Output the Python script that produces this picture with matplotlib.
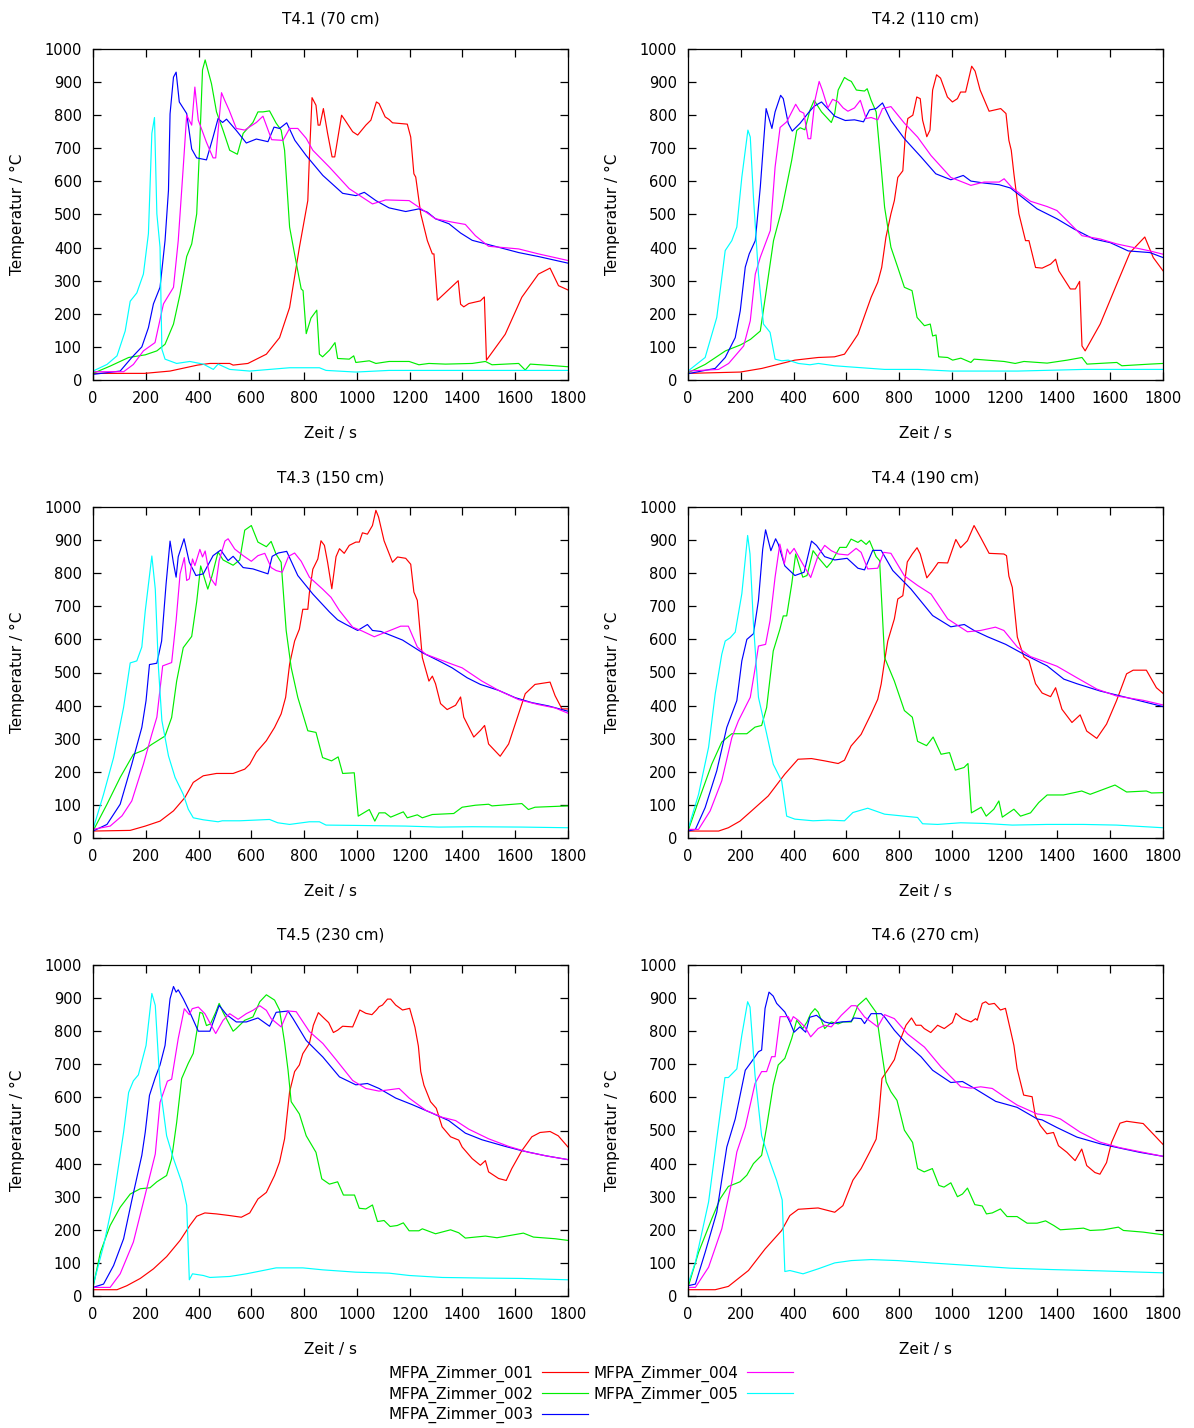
import matplotlib
matplotlib.use("Agg")
import matplotlib.pyplot as plt

titles = ["T4.1 (70 cm)", "T4.2 (110 cm)", "T4.3 (150 cm)",
          "T4.4 (190 cm)", "T4.5 (230 cm)", "T4.6 (270 cm)"]
series_names = ["MFPA_Zimmer_001", "MFPA_Zimmer_002", "MFPA_Zimmer_003",
                "MFPA_Zimmer_004", "MFPA_Zimmer_005"]
colors = ["#ff0000", "#00ee00", "#0000ff", "#ff00ff", "#00ffff"]

# ---- T4.1 (70 cm) ----
T41_001_t = [0, 195, 292, 396, 443, 518, 531, 587, 657, 707, 745, 782, 814, 820, 830, 845, 853, 860, 873, 889, 906, 916, 942, 955, 984, 1003, 1034, 1053, 1074, 1084, 1107, 1122, 1135, 1191, 1204, 1216, 1223, 1242, 1267, 1286, 1292, 1305, 1384, 1393, 1405, 1424, 1468, 1483, 1491, 1562, 1625, 1688, 1732, 1764, 1800]
T41_001_v = [20, 20, 27, 45, 50, 50, 45, 50, 78, 128, 219, 400, 542, 673, 853, 830, 770, 770, 820, 745, 674, 674, 800, 785, 750, 740, 770, 785, 840, 835, 795, 787, 777, 773, 734, 623, 613, 502, 421, 381, 381, 241, 300, 229, 221, 231, 239, 251, 60, 138, 250, 320, 338, 285, 272]
T41_002_t = [0, 65, 135, 198, 242, 273, 305, 330, 355, 374, 393, 405, 415, 425, 449, 468, 493, 518, 547, 569, 606, 625, 644, 669, 694, 713, 726, 745, 764, 789, 796, 808, 826, 848, 858, 870, 896, 917, 927, 971, 988, 996, 1047, 1072, 1122, 1198, 1235, 1273, 1336, 1437, 1487, 1512, 1613, 1638, 1657, 1751, 1800]
T41_002_v = [20, 42, 68, 76, 88, 108, 169, 260, 373, 411, 502, 724, 937, 967, 895, 810, 754, 694, 682, 745, 778, 810, 810, 813, 776, 755, 694, 462, 380, 275, 270, 140, 187, 211, 78, 70, 90, 113, 65, 63, 73, 53, 58, 50, 56, 56, 46, 50, 48, 50, 56, 46, 50, 30, 48, 43, 40]
T41_003_t = [0, 103, 147, 185, 210, 229, 254, 273, 286, 292, 305, 315, 327, 355, 374, 393, 430, 455, 474, 491, 506, 543, 581, 619, 663, 686, 707, 734, 765, 808, 871, 946, 996, 1028, 1072, 1122, 1185, 1235, 1267, 1298, 1349, 1393, 1437, 1499, 1613, 1688, 1800]
T41_003_v = [17, 27, 68, 100, 158, 230, 280, 421, 573, 804, 915, 930, 840, 805, 698, 671, 665, 734, 790, 778, 788, 754, 716, 728, 720, 764, 760, 777, 724, 678, 618, 564, 557, 567, 542, 520, 509, 517, 507, 487, 472, 444, 422, 409, 385, 373, 353]
T41_004_t = [0, 116, 153, 191, 235, 267, 305, 323, 342, 355, 374, 386, 399, 430, 455, 465, 487, 499, 516, 543, 575, 594, 619, 644, 677, 720, 745, 776, 808, 833, 896, 971, 1059, 1109, 1198, 1235, 1298, 1361, 1411, 1449, 1499, 1613, 1688, 1800]
T41_004_v = [25, 25, 47, 88, 113, 230, 280, 421, 643, 800, 770, 885, 785, 718, 671, 671, 868, 845, 815, 760, 755, 765, 778, 797, 726, 724, 760, 760, 730, 694, 643, 578, 532, 544, 542, 522, 487, 477, 470, 436, 404, 396, 381, 361]
T41_005_t = [0, 53, 91, 122, 141, 166, 191, 210, 223, 233, 242, 254, 261, 273, 317, 367, 418, 456, 474, 518, 594, 669, 745, 858, 883, 996, 1122, 1800]
T41_005_v = [27, 47, 73, 148, 238, 263, 320, 442, 745, 793, 502, 401, 93, 63, 50, 56, 48, 32, 48, 32, 27, 32, 37, 37, 29, 24, 29, 29]

# ---- T4.2 (110 cm) ----
T42_001_t = [0, 198, 280, 355, 405, 493, 555, 593, 619, 644, 669, 694, 719, 734, 750, 769, 782, 795, 814, 824, 833, 852, 867, 880, 889, 905, 917, 927, 942, 957, 983, 1002, 1021, 1033, 1052, 1075, 1088, 1107, 1141, 1185, 1205, 1216, 1225, 1235, 1254, 1279, 1292, 1317, 1342, 1374, 1393, 1405, 1449, 1468, 1484, 1493, 1505, 1562, 1625, 1675, 1731, 1763, 1800]
T42_001_v = [20, 24, 35, 50, 60, 68, 70, 78, 108, 138, 194, 250, 295, 340, 431, 502, 542, 612, 632, 744, 790, 800, 855, 850, 785, 735, 755, 876, 922, 912, 855, 840, 850, 870, 870, 948, 933, 876, 812, 820, 805, 724, 694, 623, 502, 421, 421, 340, 338, 350, 365, 330, 275, 275, 298, 103, 88, 169, 290, 385, 432, 370, 330]
T42_002_t = [0, 65, 142, 199, 237, 274, 293, 324, 356, 393, 412, 425, 443, 462, 478, 506, 543, 556, 569, 593, 606, 619, 638, 669, 679, 694, 713, 732, 745, 769, 795, 820, 849, 868, 896, 918, 927, 940, 950, 984, 1003, 1034, 1072, 1084, 1198, 1240, 1273, 1361, 1437, 1493, 1512, 1625, 1644, 1750, 1800]
T42_002_v = [22, 47, 88, 106, 123, 148, 250, 421, 517, 664, 754, 762, 756, 815, 845, 810, 778, 805, 876, 914, 907, 902, 876, 873, 880, 845, 810, 643, 522, 401, 340, 280, 270, 189, 164, 169, 133, 136, 70, 68, 60, 66, 53, 63, 56, 50, 56, 51, 60, 68, 48, 53, 43, 48, 50]
T42_003_t = [0, 103, 141, 179, 198, 217, 232, 255, 274, 287, 296, 318, 330, 351, 361, 380, 395, 424, 459, 478, 506, 556, 596, 631, 665, 688, 713, 737, 769, 820, 883, 939, 996, 1043, 1072, 1122, 1179, 1222, 1273, 1323, 1398, 1461, 1537, 1600, 1668, 1750, 1800]
T42_003_v = [19, 35, 68, 128, 209, 341, 381, 421, 583, 724, 820, 760, 810, 860, 850, 775, 752, 775, 810, 827, 840, 797, 784, 786, 780, 816, 820, 837, 784, 729, 674, 623, 605, 618, 601, 595, 590, 580, 548, 517, 487, 457, 426, 415, 390, 385, 370]
T42_004_t = [0, 116, 154, 211, 236, 255, 274, 312, 330, 349, 374, 408, 424, 439, 455, 465, 481, 497, 509, 530, 548, 569, 588, 606, 631, 653, 675, 694, 719, 737, 769, 820, 870, 921, 996, 1072, 1122, 1179, 1198, 1229, 1298, 1361, 1398, 1436, 1493, 1562, 1625, 1750, 1800]
T42_004_v = [27, 32, 50, 103, 179, 320, 371, 452, 643, 763, 780, 833, 812, 806, 729, 729, 845, 902, 876, 822, 848, 840, 822, 812, 822, 845, 790, 793, 786, 820, 826, 776, 734, 678, 612, 588, 598, 598, 608, 580, 540, 524, 512, 482, 436, 426, 411, 390, 380]
T42_005_t = [0, 65, 109, 141, 166, 185, 204, 227, 236, 248, 267, 286, 311, 330, 355, 380, 418, 462, 494, 556, 606, 745, 871, 996, 1250, 1500, 1800]
T42_005_v = [27, 68, 189, 391, 421, 462, 613, 755, 734, 552, 320, 169, 144, 63, 58, 60, 50, 46, 50, 43, 40, 32, 32, 27, 27, 32, 32]

# ---- T4.3 (150 cm) ----
T43_001_t = [0, 141, 198, 254, 305, 348, 380, 418, 468, 531, 575, 594, 619, 657, 688, 713, 730, 745, 764, 782, 795, 814, 820, 833, 852, 864, 877, 889, 905, 921, 934, 952, 971, 996, 1009, 1021, 1040, 1059, 1072, 1082, 1103, 1135, 1154, 1185, 1204, 1216, 1229, 1248, 1273, 1286, 1298, 1317, 1342, 1374, 1393, 1405, 1443, 1468, 1484, 1499, 1543, 1575, 1638, 1675, 1732, 1751, 1777, 1800]
T43_001_v = [21, 23, 36, 51, 82, 122, 168, 188, 195, 195, 208, 223, 259, 294, 334, 375, 425, 525, 595, 631, 691, 691, 741, 812, 843, 898, 884, 833, 753, 850, 874, 860, 884, 894, 894, 922, 918, 944, 990, 970, 898, 833, 849, 845, 827, 743, 718, 545, 474, 489, 466, 406, 388, 401, 426, 365, 305, 325, 340, 284, 247, 284, 436, 464, 471, 430, 390, 390]
T43_002_t = [0, 53, 103, 153, 191, 223, 273, 298, 317, 342, 374, 393, 408, 435, 451, 474, 493, 531, 556, 575, 600, 625, 657, 675, 694, 713, 732, 751, 776, 814, 845, 870, 904, 929, 946, 990, 1005, 1047, 1068, 1084, 1107, 1128, 1176, 1191, 1229, 1248, 1286, 1367, 1399, 1449, 1499, 1512, 1625, 1650, 1675, 1800]
T43_002_v = [21, 102, 183, 253, 265, 283, 308, 364, 474, 575, 609, 714, 822, 752, 792, 864, 840, 824, 840, 930, 944, 894, 880, 896, 857, 833, 627, 515, 425, 324, 319, 243, 233, 245, 195, 197, 66, 86, 51, 76, 76, 63, 79, 61, 70, 61, 71, 74, 93, 99, 102, 97, 104, 86, 93, 97]
T43_003_t = [0, 53, 103, 147, 185, 201, 214, 242, 260, 277, 292, 305, 315, 323, 345, 365, 390, 418, 455, 484, 512, 531, 569, 606, 663, 679, 702, 734, 776, 833, 896, 927, 959, 1003, 1040, 1059, 1091, 1173, 1248, 1311, 1361, 1418, 1468, 1537, 1600, 1663, 1726, 1800]
T43_003_v = [21, 41, 102, 223, 334, 415, 524, 528, 595, 768, 897, 830, 788, 850, 904, 833, 793, 798, 853, 870, 838, 851, 817, 813, 798, 851, 861, 866, 793, 737, 683, 659, 645, 627, 645, 627, 624, 598, 560, 535, 514, 484, 464, 446, 424, 409, 399, 383]
T43_004_t = [0, 65, 110, 147, 191, 223, 242, 264, 298, 315, 330, 346, 355, 365, 377, 386, 405, 415, 425, 443, 465, 478, 500, 512, 537, 569, 600, 625, 651, 675, 694, 717, 741, 764, 789, 820, 870, 902, 934, 984, 1021, 1066, 1097, 1135, 1166, 1195, 1229, 1261, 1311, 1361, 1399, 1474, 1537, 1613, 1688, 1751, 1800]
T43_004_v = [26, 36, 67, 112, 223, 314, 365, 520, 530, 657, 798, 847, 778, 783, 843, 823, 872, 849, 867, 788, 763, 838, 897, 904, 873, 853, 836, 853, 860, 817, 808, 803, 851, 861, 836, 788, 752, 727, 687, 637, 625, 608, 618, 630, 640, 640, 577, 555, 540, 525, 514, 474, 446, 418, 403, 393, 377]
T43_005_t = [0, 40, 78, 116, 141, 166, 185, 198, 223, 236, 248, 261, 286, 311, 342, 361, 380, 418, 474, 490, 556, 669, 700, 745, 820, 858, 883, 996, 1185, 1311, 1437, 1625, 1800]
T43_005_v = [26, 132, 243, 395, 529, 535, 577, 686, 852, 752, 515, 355, 248, 183, 132, 87, 61, 55, 49, 52, 52, 56, 46, 41, 49, 49, 39, 38, 36, 33, 34, 33, 31]

# ---- T4.4 (190 cm) ----
T44_001_t = [0, 116, 153, 197, 241, 304, 367, 417, 468, 518, 569, 593, 618, 656, 694, 719, 732, 745, 757, 782, 795, 814, 831, 850, 868, 880, 905, 927, 948, 984, 1015, 1033, 1059, 1084, 1109, 1141, 1197, 1207, 1216, 1229, 1248, 1273, 1292, 1317, 1342, 1374, 1393, 1417, 1455, 1486, 1511, 1549, 1586, 1624, 1662, 1687, 1737, 1775, 1800]
T44_001_v = [21, 21, 31, 51, 82, 127, 193, 238, 240, 233, 225, 235, 278, 313, 375, 419, 465, 535, 595, 662, 722, 732, 834, 858, 877, 858, 786, 808, 832, 831, 902, 877, 898, 944, 908, 860, 858, 853, 791, 757, 607, 547, 536, 466, 438, 427, 454, 389, 349, 372, 323, 301, 344, 415, 496, 507, 507, 454, 437]
T44_002_t = [0, 40, 90, 128, 166, 223, 254, 279, 298, 323, 348, 361, 374, 393, 408, 435, 451, 474, 493, 526, 543, 575, 600, 618, 644, 656, 675, 688, 713, 726, 745, 782, 820, 850, 870, 904, 929, 959, 991, 1013, 1046, 1061, 1074, 1111, 1130, 1159, 1178, 1191, 1235, 1260, 1298, 1329, 1361, 1423, 1492, 1524, 1618, 1662, 1737, 1756, 1800]
T44_002_v = [21, 112, 223, 290, 315, 315, 335, 340, 394, 565, 630, 671, 671, 767, 858, 788, 793, 868, 848, 817, 833, 878, 878, 903, 893, 900, 887, 898, 850, 838, 545, 474, 385, 365, 292, 279, 305, 253, 258, 205, 213, 225, 76, 93, 66, 87, 112, 63, 87, 66, 76, 107, 130, 130, 142, 132, 160, 139, 142, 136, 137]
T44_003_t = [0, 28, 65, 109, 147, 185, 204, 223, 248, 267, 283, 294, 314, 332, 342, 367, 405, 440, 468, 487, 518, 556, 603, 644, 669, 700, 732, 776, 845, 927, 996, 1047, 1084, 1135, 1204, 1273, 1361, 1424, 1474, 1562, 1624, 1725, 1800]
T44_003_v = [21, 26, 92, 203, 334, 415, 535, 600, 617, 718, 872, 931, 868, 904, 888, 822, 793, 803, 897, 884, 850, 840, 845, 815, 810, 869, 869, 808, 752, 672, 638, 645, 627, 608, 585, 555, 520, 480, 466, 444, 432, 412, 397]
T44_004_t = [0, 40, 84, 128, 166, 191, 236, 254, 267, 294, 311, 330, 348, 365, 376, 386, 402, 424, 465, 493, 518, 543, 569, 606, 637, 656, 681, 719, 742, 769, 820, 870, 921, 984, 1059, 1109, 1165, 1197, 1248, 1298, 1361, 1398, 1474, 1549, 1624, 1725, 1800]
T44_004_v = [26, 26, 82, 173, 303, 354, 425, 511, 580, 585, 657, 788, 888, 828, 873, 858, 875, 843, 787, 853, 884, 868, 858, 855, 875, 863, 813, 815, 863, 860, 792, 763, 737, 662, 623, 627, 637, 627, 577, 548, 530, 519, 484, 450, 429, 416, 402]
T44_005_t = [0, 40, 78, 103, 128, 141, 160, 179, 204, 226, 235, 248, 267, 298, 323, 355, 374, 405, 474, 531, 593, 625, 681, 745, 807, 870, 889, 946, 1033, 1122, 1229, 1361, 1499, 1624, 1800]
T44_005_v = [26, 132, 274, 435, 555, 595, 605, 622, 738, 914, 858, 647, 425, 315, 223, 172, 66, 57, 52, 54, 52, 77, 90, 72, 67, 62, 43, 41, 46, 44, 39, 41, 41, 39, 31]

# ---- T4.5 (230 cm) ----
T45_001_t = [0, 91, 128, 179, 229, 279, 330, 367, 393, 424, 468, 518, 562, 594, 625, 657, 688, 707, 726, 745, 764, 782, 795, 820, 835, 854, 877, 893, 911, 927, 946, 984, 1011, 1034, 1057, 1074, 1084, 1097, 1116, 1128, 1147, 1173, 1200, 1220, 1233, 1242, 1254, 1279, 1301, 1323, 1355, 1386, 1399, 1437, 1468, 1487, 1499, 1537, 1566, 1587, 1625, 1663, 1694, 1732, 1763, 1800]
T45_001_v = [19, 19, 31, 53, 82, 119, 168, 213, 241, 251, 248, 243, 238, 251, 293, 313, 364, 405, 475, 617, 678, 698, 732, 763, 818, 856, 838, 826, 796, 803, 815, 813, 864, 854, 850, 864, 874, 879, 897, 897, 879, 864, 869, 812, 755, 678, 637, 587, 567, 511, 481, 471, 450, 415, 395, 409, 375, 355, 349, 385, 439, 481, 494, 497, 484, 450]
T45_002_t = [0, 28, 65, 103, 141, 179, 216, 242, 279, 298, 317, 336, 361, 380, 405, 415, 430, 445, 465, 478, 493, 512, 531, 543, 575, 606, 632, 657, 688, 707, 726, 739, 751, 782, 808, 845, 867, 896, 927, 949, 991, 1009, 1034, 1059, 1078, 1103, 1126, 1153, 1176, 1198, 1235, 1248, 1298, 1355, 1386, 1411, 1487, 1531, 1631, 1669, 1751, 1800]
T45_002_v = [26, 132, 213, 268, 308, 324, 327, 345, 364, 415, 524, 657, 703, 733, 857, 854, 817, 822, 857, 884, 857, 828, 800, 808, 833, 843, 889, 910, 894, 864, 766, 683, 587, 550, 484, 434, 354, 338, 345, 305, 305, 265, 263, 275, 225, 228, 210, 213, 221, 197, 197, 203, 188, 200, 191, 175, 181, 176, 190, 178, 173, 168]
T45_003_t = [0, 40, 78, 116, 147, 185, 198, 214, 236, 254, 273, 292, 305, 315, 323, 342, 367, 399, 443, 478, 506, 543, 581, 625, 669, 694, 739, 758, 808, 871, 934, 996, 1040, 1084, 1147, 1210, 1286, 1348, 1411, 1474, 1562, 1625, 1713, 1800]
T45_003_v = [26, 36, 92, 173, 289, 425, 495, 606, 660, 698, 757, 898, 935, 918, 925, 898, 857, 800, 800, 878, 850, 828, 828, 840, 815, 857, 861, 838, 772, 722, 662, 638, 642, 627, 598, 578, 552, 530, 492, 472, 452, 439, 424, 412]
T45_004_t = [0, 65, 103, 153, 191, 236, 254, 282, 298, 323, 346, 365, 376, 399, 424, 465, 493, 518, 550, 581, 606, 632, 657, 675, 713, 739, 770, 820, 871, 921, 984, 1034, 1084, 1122, 1160, 1198, 1261, 1323, 1374, 1424, 1499, 1575, 1651, 1726, 1800]
T45_004_v = [26, 26, 67, 163, 284, 429, 585, 649, 655, 778, 868, 850, 868, 873, 853, 793, 833, 853, 836, 853, 863, 877, 863, 838, 813, 861, 859, 799, 763, 714, 651, 627, 619, 623, 627, 598, 561, 540, 530, 504, 475, 452, 434, 422, 412]
T45_005_t = [0, 40, 78, 116, 135, 153, 172, 201, 223, 236, 254, 279, 305, 336, 355, 365, 377, 418, 443, 518, 581, 644, 694, 795, 871, 996, 1122, 1198, 1323, 1499, 1625, 1800]
T45_005_v = [31, 152, 294, 495, 615, 650, 668, 757, 914, 878, 635, 484, 415, 344, 274, 49, 67, 62, 56, 59, 67, 77, 85, 85, 79, 72, 69, 62, 56, 54, 53, 49]

# ---- T4.6 (270 cm) ----
T46_001_t = [0, 103, 153, 229, 292, 355, 386, 418, 493, 556, 587, 625, 656, 688, 713, 723, 735, 757, 782, 801, 826, 847, 864, 883, 895, 920, 946, 971, 1002, 1015, 1040, 1072, 1090, 1096, 1115, 1128, 1140, 1161, 1184, 1203, 1222, 1235, 1247, 1272, 1304, 1316, 1335, 1360, 1385, 1404, 1436, 1467, 1492, 1511, 1542, 1561, 1586, 1605, 1637, 1662, 1725, 1762, 1800]
T46_001_v = [19, 19, 29, 77, 142, 198, 243, 262, 266, 253, 273, 350, 385, 434, 474, 545, 657, 683, 714, 767, 818, 840, 818, 818, 808, 796, 818, 808, 826, 854, 838, 828, 838, 833, 884, 889, 881, 884, 864, 869, 803, 757, 687, 607, 602, 545, 515, 490, 494, 454, 434, 409, 444, 394, 373, 368, 403, 464, 522, 528, 521, 490, 458]
T46_002_t = [0, 40, 90, 122, 153, 197, 223, 248, 279, 298, 323, 342, 367, 393, 412, 435, 451, 465, 481, 493, 518, 543, 569, 588, 619, 644, 675, 694, 713, 732, 751, 769, 792, 820, 851, 870, 895, 926, 951, 970, 996, 1021, 1040, 1059, 1087, 1115, 1131, 1153, 1184, 1209, 1247, 1285, 1323, 1355, 1386, 1411, 1499, 1524, 1574, 1631, 1650, 1725, 1800]
T46_002_v = [26, 132, 233, 294, 331, 345, 365, 400, 425, 511, 637, 698, 718, 778, 833, 808, 828, 853, 868, 858, 808, 828, 822, 828, 828, 878, 900, 878, 857, 748, 647, 617, 591, 501, 464, 385, 375, 385, 334, 329, 342, 300, 308, 326, 276, 272, 248, 251, 263, 240, 240, 220, 220, 227, 213, 200, 205, 198, 200, 208, 198, 193, 185]
T46_003_t = [0, 28, 65, 109, 147, 179, 217, 241, 267, 279, 292, 307, 323, 336, 367, 386, 402, 424, 446, 461, 487, 518, 543, 581, 618, 628, 656, 669, 694, 732, 745, 782, 827, 883, 927, 996, 1040, 1084, 1166, 1247, 1323, 1342, 1398, 1474, 1561, 1624, 1712, 1800]
T46_003_v = [31, 36, 132, 253, 450, 535, 682, 708, 738, 743, 869, 918, 906, 884, 858, 828, 797, 813, 797, 842, 848, 828, 823, 828, 830, 840, 838, 823, 853, 853, 843, 803, 763, 723, 682, 645, 648, 628, 588, 570, 535, 532, 509, 480, 460, 449, 434, 422]
T46_004_t = [0, 28, 78, 128, 166, 185, 217, 254, 279, 298, 317, 330, 349, 380, 390, 399, 418, 443, 465, 493, 518, 543, 581, 619, 637, 669, 719, 745, 782, 832, 896, 959, 1034, 1072, 1109, 1153, 1197, 1247, 1323, 1373, 1411, 1486, 1561, 1637, 1725, 1800]
T46_004_v = [26, 26, 87, 203, 345, 435, 511, 642, 678, 678, 723, 723, 844, 844, 828, 844, 833, 813, 783, 808, 818, 813, 848, 877, 877, 843, 813, 850, 838, 792, 752, 692, 632, 628, 632, 627, 603, 577, 550, 545, 535, 495, 465, 448, 434, 422]
T46_005_t = [0, 28, 78, 109, 140, 153, 185, 204, 226, 235, 254, 279, 311, 336, 357, 367, 386, 436, 493, 556, 619, 694, 795, 920, 1072, 1222, 1373, 1561, 1800]
T46_005_v = [36, 102, 284, 475, 660, 660, 686, 788, 889, 873, 667, 484, 405, 349, 290, 74, 77, 67, 82, 100, 107, 110, 107, 100, 92, 84, 80, 76, 70]

panels = [
    [(T41_001_t, T41_001_v), (T41_002_t, T41_002_v), (T41_003_t, T41_003_v), (T41_004_t, T41_004_v), (T41_005_t, T41_005_v)],
    [(T42_001_t, T42_001_v), (T42_002_t, T42_002_v), (T42_003_t, T42_003_v), (T42_004_t, T42_004_v), (T42_005_t, T42_005_v)],
    [(T43_001_t, T43_001_v), (T43_002_t, T43_002_v), (T43_003_t, T43_003_v), (T43_004_t, T43_004_v), (T43_005_t, T43_005_v)],
    [(T44_001_t, T44_001_v), (T44_002_t, T44_002_v), (T44_003_t, T44_003_v), (T44_004_t, T44_004_v), (T44_005_t, T44_005_v)],
    [(T45_001_t, T45_001_v), (T45_002_t, T45_002_v), (T45_003_t, T45_003_v), (T45_004_t, T45_004_v), (T45_005_t, T45_005_v)],
    [(T46_001_t, T46_001_v), (T46_002_t, T46_002_v), (T46_003_t, T46_003_v), (T46_004_t, T46_004_v), (T46_005_t, T46_005_v)],
]

plt.rcParams['font.family'] = ['DejaVu Sans']
plt.rcParams['font.size'] = 11

W, H = 1194, 1428
fig = plt.figure(figsize=(W / 100, H / 100), dpi=100)

lefts = [93, 688]
tops = [49, 507, 965]
aw, ah = 475, 331

handles = []
for i, (title, series) in enumerate(zip(titles, panels)):
    row, col = divmod(i, 2)
    x0 = lefts[col]
    y0 = tops[row]
    ax = fig.add_axes([x0 / W, 1 - (y0 + ah) / H, aw / W, ah / H])
    for (t, v), c in zip(series, colors):
        ln, = ax.plot(t, v, color=c, lw=0.85)
        if i == 0:
            handles.append(ln)
    ax.set_xlim(0, 1800)
    ax.set_ylim(0, 1000)
    ax.set_xticks(range(0, 1801, 200))
    ax.set_yticks(range(0, 1001, 100))
    ax.tick_params(direction='in', length=6, width=0.9, top=True, right=True,
                   labelsize=10.5, pad=8)
    for s in ax.spines.values():
        s.set_linewidth(0.9)
    ax.set_title(title, fontsize=11, pad=18)
    ax.set_xlabel("Zeit / s", fontsize=11, labelpad=14)
    ax.set_ylabel("Temperatur / °C", fontsize=11)
    ax.yaxis.set_label_coords(-0.143, 0.5)

fig.legend(handles, series_names, loc='upper center', ncol=2,
           bbox_to_anchor=(590.5 / W, 1 - 1358 / H), frameon=False,
           markerfirst=False, handlelength=3.0, handletextpad=0.6,
           columnspacing=0.33, labelspacing=0.3, borderpad=0, fontsize=11)

fig.savefig("out.png", dpi=100)
